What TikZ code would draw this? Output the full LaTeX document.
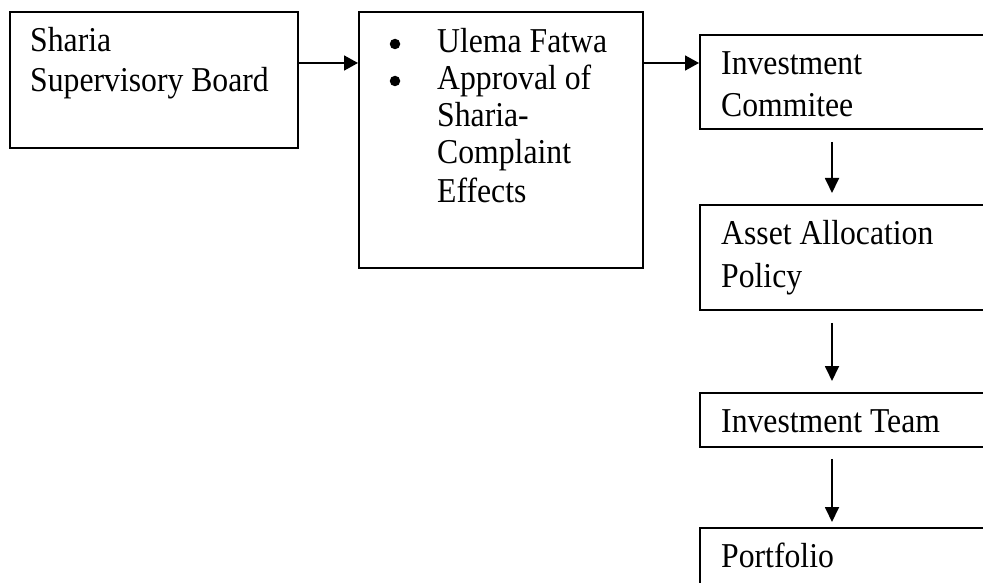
\documentclass[tikz,border=0pt]{standalone}
\usepackage{fontspec}
\setmainfont{Liberation Serif}
\usetikzlibrary{arrows.meta}
\newcommand{\tallt}[1]{\scalebox{1}[1.1]{#1}}
\begin{document}
\begin{tikzpicture}[x=1pt,y=-1pt,
  box/.style={draw,line width=1.8pt,rectangle,anchor=north west,inner sep=0pt},
  txt/.style={anchor=base west,inner sep=0pt,font=\fontsize{31.7}{38}\selectfont},
  bul/.style={circle,fill,inner sep=0pt,minimum size=10.5pt},
  harr/.style={line width=1.8pt,-{Triangle[length=14pt,width=15pt]}},
  varr/.style={line width=1.8pt,-{Triangle[length=15pt,width=14pt]}}]
\useasboundingbox (0,0) rectangle (983,583);
\clip (0,0) rectangle (983,583);
\fill[white] (0,0) rectangle (983,583);
% boxes
\node[box,minimum width=288pt,minimum height=136pt] (b1) at (9,11) {};
\node[box,minimum width=284pt,minimum height=256pt] (b2) at (358,11) {};
\node[box,minimum width=300pt,minimum height=94pt] (ic) at (699,34) {};
\node[box,minimum width=300pt,minimum height=105pt] (aa) at (699,204) {};
\node[box,minimum width=300pt,minimum height=54pt] (it) at (699,392) {};
\node[box,minimum width=300pt,minimum height=100pt] (pf) at (699,527) {};
% texts
\node[txt] (t1a) at (30,52) {\tallt{Sharia}};
\node[txt] (t1b) at (30,92) {\tallt{Supervisory Board}};
\node[bul] (bu1) at (395,44) {};
\node[bul] (bu2) at (395,81) {};
\node[txt] (t2a) at (437,53) {\tallt{Ulema Fatwa}};
\node[txt] (t2b) at (437,90) {\tallt{Approval of}};
\node[txt] (t2c) at (437,127) {\tallt{Sharia-}};
\node[txt] (t2d) at (437,164) {\tallt{Complaint}};
\node[txt] (t2e) at (437,202) {\tallt{Effects}};
\node[txt] (t3a) at (721,75) {\tallt{Investment}};
\node[txt] (t3b) at (721,117) {\tallt{Commitee}};
\node[txt] (t4a) at (721,244) {\tallt{Asset Allocation}};
\node[txt] (t4b) at (721,287) {\tallt{Policy}};
\node[txt] (t5) at (721,432) {\tallt{Investment Team}};
\node[txt] (t6) at (721,567) {\tallt{Portfolio}};
% connectors
\coordinate (hy) at (0,63);
\coordinate (vx) at (832,0);
\draw[harr] (b1.east |- hy) -- (b2.west |- hy);
\draw[harr] (b2.east |- hy) -- (ic.west |- hy);
\draw[varr,shorten <=12pt,shorten >=11pt] (ic.south -| vx) -- (aa.north -| vx);
\draw[varr,shorten <=12pt,shorten >=11pt] (aa.south -| vx) -- (it.north -| vx);
\draw[varr,shorten <=11pt,shorten >=5pt] (it.south -| vx) -- (pf.north -| vx);
\end{tikzpicture}
\end{document}
